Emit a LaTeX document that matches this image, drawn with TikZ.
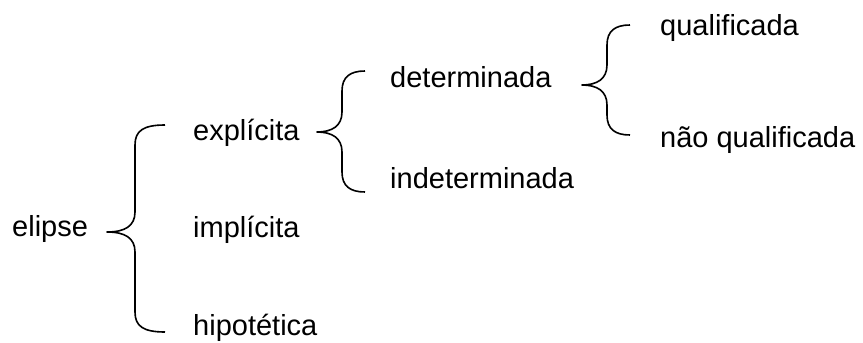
\documentclass[tikz,border=0pt]{standalone}
\usepackage{fontspec}
\setmainfont{Liberation Sans}
\newcommand{\drawmybrace}[6]{% tipx, tipy, vx, ex, topy, boty
  \draw[bracestyle] (#4,#5) .. controls (#3+8,#5) and (#3,#5+6) .. (#3,#5+20)
    -- (#3,#2-20) .. controls (#3,#2-6) and (#3-10,#2) .. (#1,#2)
    .. controls (#3-10,#2) and (#3,#2+6) .. (#3,#2+20)
    -- (#3,#6-20) .. controls (#3,#6-6) and (#3+8,#6) .. (#4,#6);
}
\begin{document}
\begin{tikzpicture}[x=1pt,y=-1pt,
  lbl/.style={anchor=base west,inner sep=0pt,font=\fontsize{29}{34}\selectfont},
  bracestyle/.style={line width=1.6pt,line join=round}]
\useasboundingbox (0,0) rectangle (863,343);
\node[lbl] (elipse) at (12,236) {elipse};
\node[lbl] (expl) at (193,140) {explícita};
\node[lbl] (impl) at (193,237) {implícita};
\node[lbl] (hipo) at (193,335) {hipotética};
\node[lbl] (det) at (390,87) {determinada};
\node[lbl] (indet) at (390,188) {indeterminada};
\node[lbl] (qual) at (660,35) {qualificada};
\node[lbl] (nqual) at (660,147) {não qualificada};
\drawmybrace{107}{232}{135}{165}{125}{332}
\drawmybrace{317}{132}{342}{365}{71}{192}
\drawmybrace{582}{85}{607}{630}{25}{135}
\end{tikzpicture}
\end{document}
